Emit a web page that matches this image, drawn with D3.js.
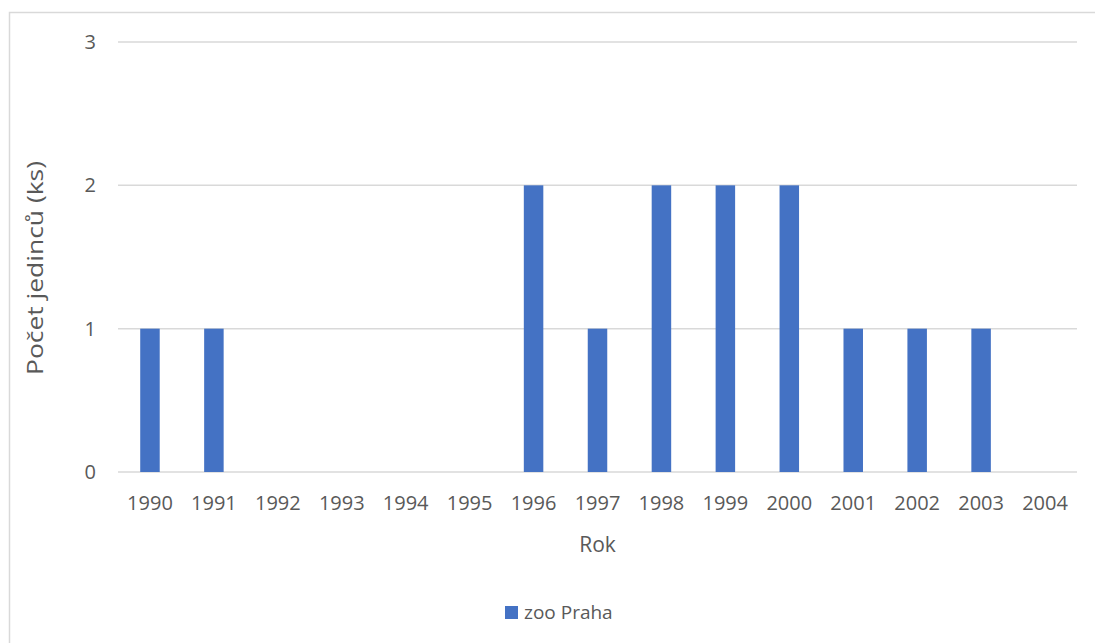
<!DOCTYPE html>
<html><head><meta charset="utf-8">
<script src="https://cdn.jsdelivr.net/npm/d3@7"></script>
<style>body{margin:0;background:#fff}svg{display:block;font-family:"Open Sans","Noto Sans",sans-serif}</style>
</head><body><svg id="c" width="1095" height="643"></svg>
<script>
const categories = ["1990","1991","1992","1993","1994","1995","1996","1997","1998","1999","2000","2001","2002","2003","2004"];
const values = [1,1,0,0,0,0,2,1,2,2,2,1,1,1,0];
const yTicks = [0,1,2,3];
const seriesName = "zoo Praha";
const xTitle = "Rok";
const yTitle = "Počet jedinců (ks)";

const svg = d3.select("#c");
const textColor = "#595959", gridColor = "#D9D9D9", barColor = "#4472C4";
const mL = 118, mR = 1077, mT = 42, mB = 472;

svg.append("rect").attr("x",9.5).attr("y",12.5).attr("width",1100).attr("height",700)
  .attr("fill","#fff").attr("stroke",gridColor).attr("stroke-width",1.5);

const x = d3.scaleBand().domain(categories).range([mL,mR]).paddingInner(0.695).paddingOuter(0.3475);
const y = d3.scaleLinear().domain([0,3]).range([mB,mT]);

svg.append("g").selectAll("line").data(yTicks).join("line")
  .attr("x1",mL).attr("x2",mR).attr("y1",d=>y(d)).attr("y2",d=>y(d))
  .attr("stroke",gridColor).attr("stroke-width",1.5);

svg.append("g").selectAll("text").data(yTicks).join("text")
  .attr("x",96).attr("y",d=>y(d)).attr("dy","0.35em").attr("text-anchor","end")
  .attr("fill",textColor).attr("font-size",20).text(d=>d);

svg.append("g").selectAll("rect").data(values).join("rect")
  .attr("x",(d,i)=>x(categories[i])).attr("width",x.bandwidth())
  .attr("y",d=>y(d)).attr("height",d=>y(0)-y(d)).attr("fill",barColor);

const band = d3.scaleBand().domain(categories).range([mL,mR]);
svg.append("g").selectAll("text").data(categories).join("text")
  .attr("x",d=>band(d)+band.bandwidth()/2).attr("y",510).attr("text-anchor","middle")
  .attr("fill",textColor).attr("font-size",20).text(d=>d);

svg.append("text").attr("x",(mL+mR)/2).attr("y",552).attr("text-anchor","middle")
  .attr("fill",textColor).attr("font-size",21).text(xTitle);

svg.append("text").attr("transform","translate(43,268) rotate(-90)").attr("text-anchor","middle")
  .attr("fill",textColor).attr("font-size",21).attr("textLength",214).attr("lengthAdjust","spacingAndGlyphs").text(yTitle);

const lg = svg.append("g").attr("transform","translate(505,606)");
lg.append("rect").attr("width",13).attr("height",13).attr("fill",barColor);
lg.append("text").attr("x",19).attr("y",13).attr("fill",textColor).attr("font-size",19).text(seriesName);
</script></body></html>
